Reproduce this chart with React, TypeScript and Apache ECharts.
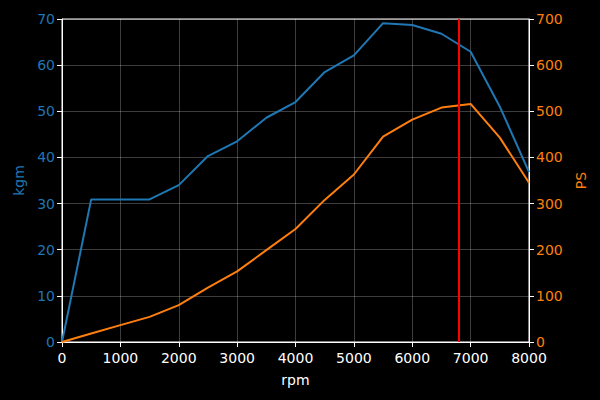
import React, { useEffect, useRef } from "react";
import * as echarts from "echarts";

const rpm = [0, 500, 1000, 1500, 2000, 2500, 3000, 3500, 4000, 4500, 5000, 5500, 6000, 6500, 7000, 7500, 8000];
const kgm = [0, 30.9, 30.9, 30.9, 34.0, 40.3, 43.5, 48.6, 52.0, 58.5, 62.1, 69.1, 68.7, 66.8, 62.9, 51.0, 36.8];
const ps = [0, 18.5, 36.5, 54.5, 80, 118, 153, 199, 245, 308, 363, 445, 482, 508, 516, 443, 345];
const redlineRpm = 6800;

export default function App() {
  const ref = useRef<HTMLDivElement>(null);
  useEffect(() => {
    const chart = echarts.init(ref.current!, null, { renderer: "svg" });
    const font = "DejaVu Sans";
    const fs = 14;
    const gridColor = "rgba(255,255,255,0.3)";
    const plain = (v: number) => String(v);
    chart.setOption({
      animation: false,
      backgroundColor: "#000000",
      textStyle: { fontFamily: font },
      grid: { left: 62, right: 71, top: 19, bottom: 58, show: true, borderColor: "#ffffff", borderWidth: 1, backgroundColor: "transparent" },
      xAxis: {
        type: "value",
        min: 0,
        max: 8000,
        interval: 1000,
        name: "rpm",
        nameLocation: "middle",
        nameGap: 31,
        nameTextStyle: { color: "#ffffff", fontSize: fs, fontFamily: font },
        axisLine: { show: true, lineStyle: { color: "#ffffff", width: 1 } },
        axisTick: { show: true, inside: false, length: 5, lineStyle: { color: "#ffffff" } },
        axisLabel: { color: "#ffffff", fontSize: fs, fontFamily: font, margin: 9, formatter: plain },
        splitLine: { show: true, lineStyle: { color: gridColor, width: 0.8 } },
      },
      yAxis: [
        {
          type: "value",
          min: 0,
          max: 70,
          interval: 10,
          position: "left",
          name: "kgm",
          nameLocation: "middle",
          nameGap: 35,
          nameTextStyle: { color: "#1f77b4", fontSize: fs, fontFamily: font },
          axisLine: { show: true, lineStyle: { color: "#ffffff", width: 1 } },
          axisTick: { show: true, inside: false, length: 5, lineStyle: { color: "#ffffff" } },
          axisLabel: { color: "#1f77b4", fontSize: fs, fontFamily: font, margin: 7, formatter: plain },
          splitLine: { show: true, lineStyle: { color: gridColor, width: 0.8 } },
        },
        {
          type: "value",
          min: 0,
          max: 700,
          interval: 100,
          position: "right",
          name: "PS",
          nameLocation: "middle",
          nameGap: 44,
          nameRotate: 90,
          nameTextStyle: { color: "#ff7f0e", fontSize: fs, fontFamily: font },
          axisLine: { show: true, lineStyle: { color: "#ffffff", width: 1 } },
          axisTick: { show: true, inside: false, length: 5, lineStyle: { color: "#ffffff" } },
          axisLabel: { color: "#ff7f0e", fontSize: fs, fontFamily: font, margin: 7, formatter: plain },
          splitLine: { show: false },
        },
      ],
      series: [
        {
          type: "line",
          name: "kgm",
          yAxisIndex: 0,
          data: rpm.map((r, i) => [r, kgm[i]]),
          showSymbol: false,
          lineStyle: { color: "#1f77b4", width: 2 },
          itemStyle: { color: "#1f77b4" },
          z: 3,
        },
        {
          type: "line",
          name: "PS",
          yAxisIndex: 1,
          data: rpm.map((r, i) => [r, ps[i]]),
          showSymbol: false,
          lineStyle: { color: "#ff7f0e", width: 2 },
          itemStyle: { color: "#ff7f0e" },
          z: 3,
          markLine: {
            silent: true,
            symbol: ["none", "none"],
            label: { show: false },
            lineStyle: { color: "#ff0000", width: 2, type: "solid" },
            data: [{ xAxis: redlineRpm }],
            z: 5,
          },
        },
      ],
    });
    return () => chart.dispose();
  }, []);
  return <div ref={ref} style={{ width: 600, height: 400, position: "absolute", left: 0, top: 0 }} />;
}
